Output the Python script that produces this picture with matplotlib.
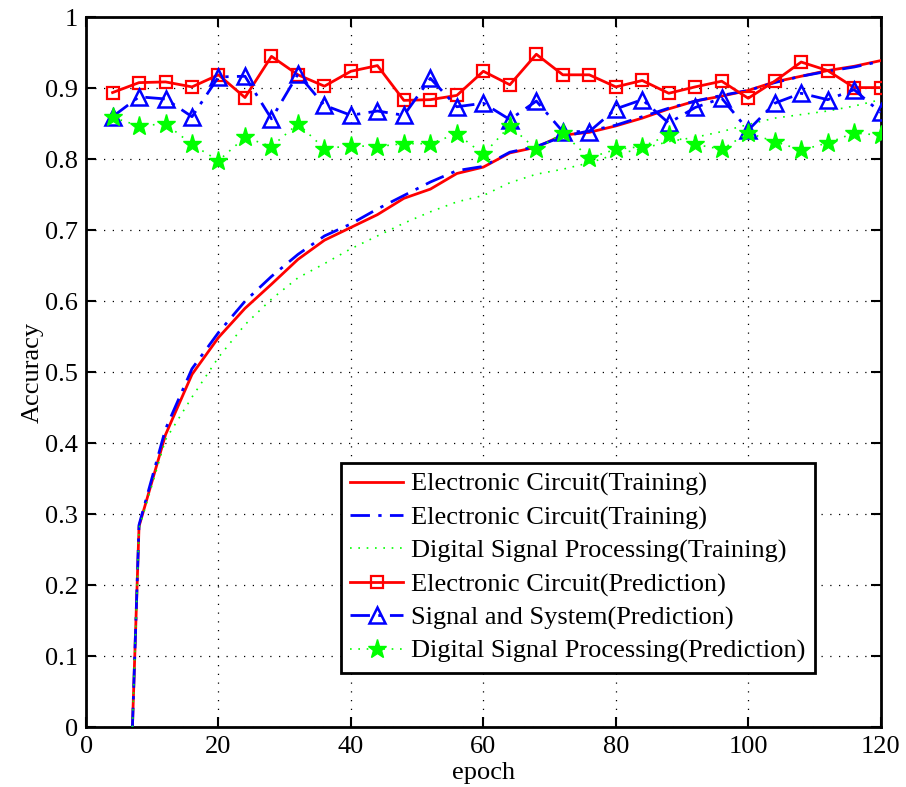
import matplotlib
matplotlib.use("Agg")
import matplotlib.pyplot as plt

plt.rcParams['font.family'] = ['Liberation Serif', 'DejaVu Serif']
plt.rcParams['mathtext.fontset'] = 'stix'

# Training curves
train_epochs = [7, 8, 12, 16, 20, 24, 28, 32, 36, 40, 44, 48, 52, 56, 60, 64, 68, 72,
                76, 80, 84, 88, 92, 96, 100, 104, 108, 112, 116, 120]
ec_train = [0.0, 0.283, 0.412, 0.497, 0.549, 0.590, 0.624, 0.659, 0.686, 0.704, 0.722,
            0.745, 0.758, 0.780, 0.789, 0.809, 0.817, 0.834, 0.838, 0.847, 0.858, 0.871,
            0.882, 0.889, 0.897, 0.909, 0.917, 0.925, 0.931, 0.939]
ss_train = [0.0, 0.285, 0.420, 0.505, 0.556, 0.600, 0.635, 0.666, 0.692, 0.709, 0.730,
            0.749, 0.768, 0.784, 0.790, 0.810, 0.818, 0.832, 0.840, 0.848, 0.860, 0.872,
            0.882, 0.890, 0.897, 0.908, 0.917, 0.924, 0.930, 0.938]
dsp_train = [0.0, 0.280, 0.405, 0.465, 0.521, 0.567, 0.603, 0.633, 0.653, 0.674, 0.692,
             0.710, 0.726, 0.740, 0.749, 0.767, 0.779, 0.786, 0.795, 0.807, 0.815, 0.825,
             0.831, 0.839, 0.849, 0.858, 0.863, 0.868, 0.875, 0.884]

# Prediction curves
pred_epochs = list(range(4, 121, 4))
ec_pred = [0.894, 0.908, 0.909, 0.902, 0.919, 0.887, 0.945, 0.919, 0.903, 0.924,
           0.932, 0.883, 0.884, 0.890, 0.924, 0.905, 0.948, 0.919, 0.919, 0.902,
           0.911, 0.893, 0.902, 0.910, 0.886, 0.910, 0.937, 0.925, 0.901, 0.901]
ss_pred = [0.860, 0.888, 0.885, 0.860, 0.916, 0.917, 0.857, 0.920, 0.876, 0.862,
           0.868, 0.862, 0.914, 0.874, 0.879, 0.856, 0.882, 0.839, 0.839, 0.871,
           0.884, 0.851, 0.873, 0.886, 0.841, 0.879, 0.893, 0.884, 0.898, 0.866]
dsp_pred = [0.859, 0.847, 0.850, 0.821, 0.798, 0.831, 0.818, 0.850, 0.815, 0.819,
            0.818, 0.822, 0.822, 0.836, 0.807, 0.847, 0.814, 0.837, 0.802, 0.814,
            0.818, 0.834, 0.821, 0.814, 0.837, 0.825, 0.813, 0.823, 0.837, 0.834]

labels = ["Electronic Circuit(Training)", "Electronic Circuit(Training)",
          "Digital Signal Processing(Training)", "Electronic Circuit(Prediction)",
          "Signal and System(Prediction)", "Digital Signal Processing(Prediction)"]

fig = plt.figure(figsize=(9.06, 7.87), dpi=100)
ax = fig.add_axes([0.095, 0.076, 0.877, 0.902])

red = '#ff0000'
blue = '#0000ff'
green = '#00ff00'
dashdot = (0, (7, 3, 1.2, 3))

ax.plot(train_epochs, ec_train, color=red, lw=2.0, ls='-', label=labels[0], zorder=3)
ax.plot(train_epochs, ss_train, color=blue, lw=2.0, ls=dashdot, label=labels[1], zorder=3)
ax.plot(train_epochs, dsp_train, color=green, lw=1.2, ls=(0, (1, 4)), label=labels[2], zorder=3)
ax.plot(pred_epochs, ec_pred, color=red, lw=2.0, ls='-', marker='s', ms=8,
        mfc='none', mec=red, mew=1.6, label=labels[3], zorder=4)
ax.plot(pred_epochs, ss_pred, color=blue, lw=2.0, ls=dashdot, marker='^', ms=11,
        mfc='none', mec=blue, mew=1.8, label=labels[4], zorder=4)
ax.plot(pred_epochs, dsp_pred, color=green, lw=1.2, ls=(0, (1, 4)), marker='*', ms=14,
        mfc=green, mec=green, label=labels[5], zorder=4)

ax.set_xlim(0, 120)
ax.set_ylim(0, 1)
ax.set_xticks(range(0, 121, 20))
ax.set_yticks([i / 10 for i in range(11)])
ax.set_yticklabels(['0', '0.1', '0.2', '0.3', '0.4', '0.5', '0.6', '0.7', '0.8', '0.9', '1'])
ax.tick_params(direction='in', length=7, width=1.5, labelsize=19, top=True, right=True, pad=6)
ax.grid(True, color='black', ls=(0, (1, 6)), lw=0.9)
for s in ax.spines.values():
    s.set_linewidth(2.0)
ax.set_xlabel('epoch', fontsize=19, labelpad=3)
ax.set_ylabel('Accuracy', fontsize=19, labelpad=1)

leg = ax.legend(loc='lower right', bbox_to_anchor=(0.917, 0.077), fontsize=19,
                frameon=True, fancybox=False, edgecolor='black', framealpha=1,
                borderaxespad=0, handlelength=2.0, labelspacing=0.36, handletextpad=0.3,
                borderpad=0.35)
leg.get_frame().set_linewidth(2.0)

fig.savefig('out.png', dpi=100)
